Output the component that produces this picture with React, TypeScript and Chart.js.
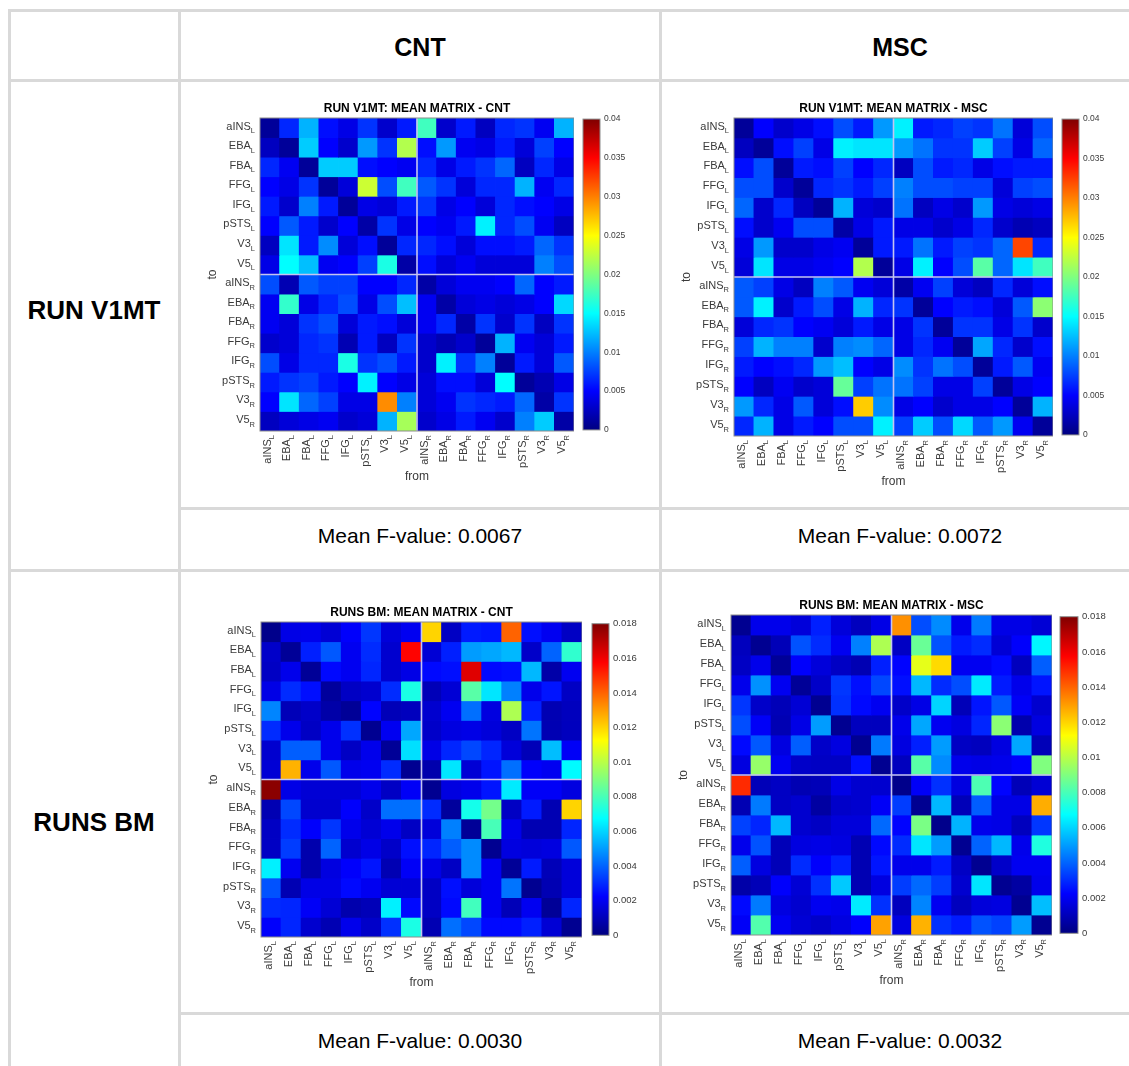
import React, { useEffect, useRef } from "react";
import { Chart, registerables } from "chart.js";

Chart.register(...registerables);

// Region labels: [name, hemisphere subscript]
const regionNames = ["aINS", "EBA", "FBA", "FFG", "IFG", "pSTS", "V3", "V5"];
const hemispheres = ["L", "R"];
const regionLabels = hemispheres.flatMap((h) => regionNames.map((n) => [n, h]));

// All matrix values are in thousandths (1 = 0.001)
const UNIT = 0.001;

const runV1mtCnt = [
  [1, 6.5, 12, 5.5, 4, 7, 3, 6, 17.5, 3, 6, 2.5, 6.5, 7, 4.5, 12],
  [2.5, 1, 13, 5, 3, 11, 7, 22, 5.5, 11, 4.5, 4, 6, 3.5, 7.5, 5],
  [6.5, 4.5, 1, 13, 13, 5.5, 5, 4.5, 6.5, 4, 6, 7, 9, 2.5, 6.5, 4],
  [5, 4, 7, 1, 3.5, 23, 8, 17.5, 8.5, 7, 3.5, 6.5, 6.5, 12, 4.5, 6.5],
  [6, 3, 10, 6, 1, 4, 3.5, 6, 7, 4, 5, 3.5, 6.5, 5.5, 5, 4],
  [5, 8.5, 6, 3, 5, 1.5, 7, 4, 5, 4.5, 6, 14.5, 6.5, 8, 4.5, 2.5],
  [2.5, 14, 6, 10.5, 3.5, 5.5, 1, 6.5, 6.5, 5.5, 3.5, 5.5, 5.5, 6, 9, 7],
  [4, 15, 12.5, 4.5, 5, 7.5, 16, 1.5, 5.5, 3.5, 4.5, 3.5, 3.5, 3.5, 10, 8],
  [8, 2, 8.5, 7.5, 7.5, 5, 5, 6.5, 1.5, 3.5, 4.5, 4.5, 5, 9, 5, 6],
  [4.5, 17, 4, 6.5, 8, 4, 8, 12.5, 4.5, 1.5, 3.5, 4, 3.5, 4, 5, 13.5],
  [4.5, 3.5, 7, 8, 3.5, 6, 5.5, 3.5, 4.5, 6.5, 1.5, 7, 3, 7, 2.5, 7],
  [3, 3.5, 6.5, 7, 2, 6, 2.5, 7, 3, 2, 3, 1, 12, 4.5, 3.5, 6],
  [8, 4, 6.5, 6.5, 16, 7, 8, 6, 3, 14.5, 7, 10, 1, 6, 3.5, 8.5],
  [6, 7, 7.5, 6, 5, 14.5, 5, 4, 3.5, 5.5, 5.5, 3.5, 15, 1, 2, 4],
  [5, 14, 9, 7.5, 4, 4, 29.5, 10, 3.5, 4.5, 7, 6.5, 6, 9, 1.5, 7],
  [2.5, 3.5, 4, 4.5, 3, 3.5, 12, 21.5, 3, 4, 6, 4.5, 3, 10, 13, 1.5],
];

const runV1mtMsc = [
  [1, 5, 3, 4, 5.5, 8, 6, 11, 14.5, 6, 6.5, 7.5, 7, 9.5, 3.5, 8],
  [2.5, 1, 5.5, 7.5, 4, 14.5, 14, 14, 11, 9.5, 7, 7, 13, 7.5, 4, 9],
  [5.5, 8, 1, 6, 5.5, 7.5, 5, 6.5, 2.5, 8, 6, 6.5, 4, 5.5, 6, 6],
  [8, 8, 3, 1, 6.5, 7, 6, 7.5, 10, 8, 8, 7.5, 7.5, 3.5, 7.5, 8],
  [9, 3, 6.5, 2.5, 1, 12, 3.5, 3, 9.5, 2.5, 4, 3, 11, 4, 3.5, 4],
  [5.5, 3, 4.5, 8, 8, 1.5, 4, 6, 4, 4, 3, 4, 6.5, 3, 2, 2.5],
  [4, 11, 3, 3, 4, 4.5, 1, 6, 6, 9.5, 6, 7.5, 7, 9, 32.3, 6.5],
  [3.5, 14, 4, 4, 4.5, 5, 22, 1, 4, 14.5, 5, 8, 18.5, 9, 14, 17.5],
  [8.5, 7.5, 4, 2.5, 10, 8.5, 4.5, 3.5, 1.5, 4.5, 7.5, 3.5, 2.5, 6.5, 3.5, 5.5],
  [8.5, 14.5, 3, 6, 8, 4, 12, 6.5, 7, 1, 5, 6, 5.5, 3.5, 8.5, 20.5],
  [3.5, 6.5, 7, 5, 4.5, 3.5, 6, 4, 4, 7, 1, 7, 7, 4, 7, 3],
  [7.5, 12, 10, 10, 3, 10, 10.5, 9, 4, 6.5, 4.5, 1, 11.5, 6.5, 3, 5.5],
  [6, 5, 5.5, 6.5, 11, 12.5, 5, 4, 10.5, 7, 9.5, 8, 1, 6, 8.5, 4.5],
  [5, 2.5, 4.5, 3, 3.5, 19, 7.5, 9.5, 9.5, 7.5, 4, 4, 7.5, 1, 4, 5],
  [11, 6.5, 4, 8.5, 3.5, 5.5, 27, 10.5, 4, 5, 3, 4, 4, 5, 1, 12],
  [6.5, 12, 4, 6, 5, 8, 8, 14.5, 7.5, 13, 8, 13.5, 8.5, 11, 4.5, 1],
];

const runsBmCnt = [
  [0.2, 1.8, 1.9, 1.5, 2.2, 3.2, 1.6, 2, 12, 1.2, 2.7, 2.6, 14, 2.5, 2, 1.2],
  [1.3, 0.4, 2.8, 3.8, 2, 3, 1.4, 15.7, 1.5, 2.8, 5, 5.2, 5.5, 1.3, 4, 7.6],
  [1.2, 1.9, 0.4, 2.4, 2, 2.9, 1.4, 1.8, 2.4, 2.5, 16.3, 2.4, 2.5, 5.5, 0.7, 2],
  [1.8, 3, 2.5, 0.5, 1.2, 1.4, 3, 7.2, 1, 1.5, 8.3, 6.3, 4.5, 1.9, 2.6, 1.2],
  [4.6, 1, 1.3, 0.7, 0.4, 2.3, 1, 1.1, 1.4, 2, 4.2, 1.7, 9.8, 2.8, 0.9, 1.1],
  [3, 1.9, 1.2, 1.9, 3.1, 0.3, 2, 5.2, 1.3, 1.7, 1.8, 1.6, 1.2, 4.3, 0.9, 1.1],
  [1.4, 3.9, 3.9, 1.9, 1.2, 1.9, 0.4, 6.2, 1.8, 2.9, 3.5, 2.9, 1.6, 1, 5.6, 2.1],
  [1.5, 12.6, 1.9, 3.8, 1.9, 2, 3, 0.3, 0.8, 6.3, 1.5, 2.6, 4.2, 2.2, 2, 6.7],
  [17.8, 1.8, 1.5, 1.5, 1.5, 1.9, 1.2, 2.1, 0.3, 1.7, 1.9, 2.6, 6.4, 2.1, 2.1, 1.7],
  [0.9, 3.5, 1.4, 1.4, 2.2, 1.3, 4.2, 4.2, 3, 0.5, 7.1, 8.8, 1.2, 2.7, 0.9, 12],
  [1.2, 3, 2.2, 3.2, 1.9, 1.5, 1.9, 1.2, 1.6, 4.5, 0.4, 8, 1.9, 0.9, 0.9, 2.9],
  [1.2, 3.3, 0.8, 4, 1.4, 1.8, 1.3, 2.5, 2.9, 3.9, 4.7, 0.3, 1.7, 1.6, 1.7, 3.8],
  [6.5, 2, 0.8, 1.7, 2.2, 2.6, 0.9, 2.1, 1.8, 1.2, 4.7, 2, 0.4, 2.7, 1, 1.6],
  [3.7, 0.9, 1.8, 1.8, 2.4, 2, 1.5, 1.5, 1.2, 2.5, 1.6, 2, 4.3, 0.3, 0.9, 1.6],
  [3, 2.9, 2.1, 1.5, 0.8, 1, 6.5, 2.4, 1.2, 2.4, 7.9, 2, 1, 2, 0.4, 2.9],
  [2.2, 2.9, 1.4, 0.9, 1.9, 1.3, 3.1, 7.2, 0.9, 4.2, 3.5, 2.4, 2.4, 2.8, 1.5, 0.3],
];

const runsBmMsc = [
  [0.3, 1.9, 1.9, 1.6, 2.8, 1.6, 1.1, 1.8, 13.2, 3.6, 4.7, 1.9, 4.4, 1.8, 1.8, 1.5],
  [1.1, 0.3, 1, 3.7, 3, 2, 4.5, 9.8, 1.2, 8.6, 3.7, 2.7, 3, 1.5, 2.2, 6.6],
  [1.2, 1.9, 0.4, 2.2, 1.6, 1.2, 0.9, 2.8, 2.3, 10.8, 11.9, 2, 2, 2.4, 1.1, 3.9],
  [1.9, 4.8, 2, 0.4, 1.3, 3.2, 2.5, 3.5, 2.5, 5.5, 3, 3.6, 6.4, 2.7, 1.9, 2.6],
  [3.2, 1.3, 1, 1.5, 0.3, 3.1, 2.4, 2, 1.3, 1.8, 6, 1, 2.6, 3.8, 2.1, 1.4],
  [3.6, 2.1, 0.9, 1.8, 5, 0.3, 1.1, 1.1, 1.9, 5.2, 2, 1.7, 2.9, 9.2, 0.8, 1.7],
  [2.4, 3.8, 1.7, 3.9, 1.3, 1.7, 0.3, 4.4, 1.7, 2.8, 5, 1.2, 1.1, 1.7, 5.2, 1],
  [1.7, 9.4, 2, 1.3, 1.2, 1.2, 2.5, 0.3, 1.1, 8.3, 4.7, 1.9, 1.8, 1.9, 2.2, 9],
  [15, 1, 1.2, 0.9, 1, 1.8, 1.4, 1.4, 0.2, 2.1, 3.1, 1.7, 8.1, 2.3, 1, 1.5],
  [0.9, 4.4, 1.2, 1.4, 0.6, 1.3, 1.4, 2.1, 3.3, 0.3, 5.5, 1, 3.9, 1.8, 1.8, 12.7],
  [3.4, 2.9, 5.5, 1.4, 1.2, 1.6, 1.6, 4.1, 2.3, 8.9, 0.2, 5.4, 1.9, 1.8, 1.1, 3.2],
  [1.9, 3.7, 1, 1.7, 1.8, 1.7, 0.9, 2.4, 3, 6.3, 5, 0.3, 4, 5.5, 1.9, 7.3],
  [3.9, 1.7, 1, 3, 2.2, 2.8, 0.9, 2.6, 1.9, 1.9, 2.7, 1.2, 0.3, 1.3, 2, 2],
  [0.7, 1, 2.2, 1.5, 3.1, 5.8, 0.9, 1.7, 3.3, 4.1, 3.3, 1.4, 6.3, 0.3, 0.6, 1.9],
  [2.4, 4.4, 1.7, 1.4, 2, 1.9, 6.4, 3.1, 1.1, 4.6, 2, 1.1, 1.6, 1.7, 0.3, 5.6],
  [2.1, 8.2, 2, 1.5, 1.3, 1.7, 2.2, 12.9, 1.7, 12.6, 3.1, 2.7, 3.7, 3.4, 5, 0.3],
];

const columnHeads = [
  { text: "CNT", x: 420 },
  { text: "MSC", x: 900 },
];
const rowHeads = [
  { text: "RUN V1MT", y: 310 },
  { text: "RUNS BM", y: 822 },
];
const meanFValues = [
  { text: "Mean F-value: 0.0067", x: 420, y: 536 },
  { text: "Mean F-value: 0.0072", x: 900, y: 536 },
  { text: "Mean F-value: 0.0030", x: 420, y: 1041 },
  { text: "Mean F-value: 0.0032", x: 900, y: 1041 },
];

const panels = [
  { title: "RUN V1MT: MEAN MATRIX - CNT", rows: runV1mtCnt, vmax: 0.04, step: 0.005, decimals: 3, l: 260, t: 117.5, r: 574, b: 431, cbL: 583, cbR: 600, cbFont: 8.5 },
  { title: "RUN V1MT: MEAN MATRIX - MSC", rows: runV1mtMsc, vmax: 0.04, step: 0.005, decimals: 3, l: 734, t: 118, r: 1053, b: 436, cbL: 1062, cbR: 1079, cbFont: 8.5 },
  { title: "RUNS BM: MEAN MATRIX - CNT", rows: runsBmCnt, vmax: 0.018, step: 0.002, decimals: 3, l: 261, t: 622, r: 582, b: 937, cbL: 592, cbR: 609, cbFont: 9.5 },
  { title: "RUNS BM: MEAN MATRIX - MSC", rows: runsBmMsc, vmax: 0.018, step: 0.002, decimals: 3, l: 731, t: 615, r: 1052, b: 935, cbL: 1060, cbR: 1078, cbFont: 9.5 },
];

const FONT = '"Liberation Sans", Arial, Helvetica, sans-serif';
const LINE = "#d9d9d9";
const AXIS_TEXT = "#3a3a3a";
const BORDER = "#8c8c8c";
const BLUR = "blur(0.6px)";

// MATLAB jet
const JET_STOPS: [number, number[]][] = [
  [0, [0, 0, 128]],
  [0.125, [0, 0, 255]],
  [0.375, [0, 255, 255]],
  [0.625, [255, 255, 0]],
  [0.875, [255, 0, 0]],
  [1, [128, 0, 0]],
];
function jet(f: number) {
  const t = Math.max(0, Math.min(1, f));
  for (let i = 1; i < JET_STOPS.length; i++) {
    const [t1, c1] = JET_STOPS[i];
    const [t0, c0] = JET_STOPS[i - 1];
    if (t <= t1) {
      const k = (t - t0) / (t1 - t0);
      const c = c0.map((v, j) => Math.round(v + (c1[j] - v) * k));
      return `rgb(${c[0]},${c[1]},${c[2]})`;
    }
  }
  return "rgb(128,0,0)";
}

function drawLabel(ctx: CanvasRenderingContext2D, name: string, sub: string) {
  // right-aligned at (0,0), name slightly raised, subscript lowered
  ctx.textBaseline = "alphabetic";
  ctx.textAlign = "right";
  ctx.font = `7.5px ${FONT}`;
  const subW = ctx.measureText(sub).width;
  ctx.fillText(sub, 0, 5.5);
  ctx.font = `11px ${FONT}`;
  ctx.fillText(name, -subW, 1.8);
}

const heatmapDecor = {
  id: "heatmapDecor",
  afterDatasetsDraw(chart: any) {
    const { ctx, chartArea: a, scales } = chart;
    const x = scales.x;
    const y = scales.y;
    ctx.save();
    // hemisphere separators
    const midX = (x.getPixelForValue(7) + x.getPixelForValue(8)) / 2;
    const midY = y.getPixelForValue(8);
    ctx.strokeStyle = "#c4c4f0";
    ctx.lineWidth = 1.6;
    ctx.beginPath();
    ctx.moveTo(midX, a.top);
    ctx.lineTo(midX, a.bottom);
    ctx.moveTo(a.left, midY);
    ctx.lineTo(a.right, midY);
    ctx.stroke();
    // frame
    ctx.strokeStyle = BORDER;
    ctx.lineWidth = 1;
    ctx.strokeRect(a.left, a.top, a.right - a.left, a.bottom - a.top);
    // tick labels with subscripts
    ctx.fillStyle = AXIS_TEXT;
    regionLabels.forEach(([n, h], i) => {
      ctx.save();
      ctx.translate(a.left - 5, y.getPixelForValue(i + 0.5));
      drawLabel(ctx, n, h);
      ctx.restore();
      ctx.save();
      ctx.translate(x.getPixelForValue(i) - 1, a.bottom + 4);
      ctx.rotate(-Math.PI / 2);
      drawLabel(ctx, n, h);
      ctx.restore();
    });
    ctx.restore();
  },
};

const frameOnly = {
  id: "frameOnly",
  afterDatasetsDraw(chart: any) {
    const { ctx, chartArea: a } = chart;
    ctx.save();
    ctx.strokeStyle = BORDER;
    ctx.lineWidth = 1;
    ctx.strokeRect(a.left, a.top, a.right - a.left, a.bottom - a.top);
    ctx.restore();
  },
};

const LEFT = 60;
const TOP = 17;
const BOTTOM = 56;

function Heatmap({ p }: { p: (typeof panels)[number] }) {
  const ref = useRef<HTMLCanvasElement>(null);
  useEffect(() => {
    const labels = regionLabels.map(([n, h]) => `${n}_${h}`);
    const chart = new Chart(ref.current!, {
      type: "bar",
      plugins: [heatmapDecor],
      data: {
        labels,
        datasets: p.rows.map((row, i) => ({
          label: labels[i],
          data: row.map((v, j) => ({ x: labels[j], y: [i, i + 1], v })),
          grouped: false,
          barPercentage: 1,
          categoryPercentage: 1,
          borderWidth: 0,
          inflateAmount: 0.4,
          backgroundColor: row.map((v) => jet((v * UNIT) / p.vmax)),
        })),
      } as any,
      options: {
        animation: false,
        responsive: false,
        events: [],
        layout: { padding: 0 },
        plugins: {
          legend: { display: false },
          tooltip: { enabled: false },
          title: {
            display: true,
            text: p.title,
            fullSize: false,
            color: "#000",
            font: { family: FONT, size: 12, weight: "bold", lineHeight: 1.2 },
            padding: { top: 0, bottom: 2.6 },
          },
        },
        scales: {
          x: {
            type: "category",
            grid: { display: false, drawTicks: false },
            border: { display: false },
            ticks: { display: false },
            title: { display: true, text: "from", color: AXIS_TEXT, font: { family: FONT, size: 12, lineHeight: 1.2 }, padding: { top: 0, bottom: 2.8 } },
            afterFit: (s: any) => { s.height = BOTTOM; },
          },
          y: {
            type: "linear",
            reverse: true,
            min: 0,
            max: 16,
            grid: { display: false, drawTicks: false },
            border: { display: false },
            ticks: { display: false, stepSize: 1 },
            title: { display: true, text: "to", color: AXIS_TEXT, font: { family: FONT, size: 12, lineHeight: 1.2 }, padding: { top: 5.8, bottom: 0 } },
            afterFit: (s: any) => { s.width = LEFT; },
          },
        },
      } as any,
    });
    return () => chart.destroy();
  }, [p]);
  const w = p.r - p.l + LEFT;
  const h = p.b - p.t + TOP + BOTTOM;
  return (
    <canvas
      ref={ref}
      width={w}
      height={h}
      style={{ position: "absolute", left: p.l - LEFT, top: p.t - TOP, width: w, height: h, filter: BLUR }}
    />
  );
}

function Colorbar({ p }: { p: (typeof panels)[number] }) {
  const ref = useRef<HTMLCanvasElement>(null);
  useEffect(() => {
    const chart = new Chart(ref.current!, {
      type: "bar",
      plugins: [frameOnly],
      data: {
        labels: ["scale"],
        datasets: [
          {
            data: [[0, p.vmax]],
            barPercentage: 1,
            categoryPercentage: 1,
            borderWidth: 0,
            backgroundColor: (c: any) => {
              const a = c.chart.chartArea;
              if (!a) return "#00f";
              const g = c.chart.ctx.createLinearGradient(0, a.bottom, 0, a.top);
              JET_STOPS.forEach(([t]) => g.addColorStop(t, jet(t)));
              return g;
            },
          },
        ],
      } as any,
      options: {
        animation: false,
        responsive: false,
        events: [],
        layout: { padding: { top: 8, bottom: 8, left: 1 } },
        plugins: { legend: { display: false }, tooltip: { enabled: false } },
        scales: {
          x: { display: false },
          y: {
            position: "right",
            min: 0,
            max: p.vmax,
            grid: { display: false, drawTicks: false },
            border: { display: false },
            ticks: {
              stepSize: p.step,
              padding: 4,
              color: AXIS_TEXT,
              font: { family: FONT, size: p.cbFont },
              callback: (v: number) => (v === 0 ? "0" : String(Number(v.toFixed(p.decimals)))),
            },
            afterFit: (s: any) => { s.width = 34; },
          },
        },
      } as any,
    });
    return () => chart.destroy();
  }, [p]);
  const w = p.cbR - p.cbL + 35;
  const h = p.b - p.t + 16;
  return (
    <canvas
      ref={ref}
      width={w}
      height={h}
      style={{ position: "absolute", left: p.cbL - 1, top: p.t - 8, width: w, height: h, filter: BLUR }}
    />
  );
}

function Rule({ x, y, w, h }: { x: number; y: number; w: number; h: number }) {
  return <div style={{ position: "absolute", left: x, top: y, width: w, height: h, background: LINE }} />;
}

function Centered({ text, x, y, size, bold }: { text: string; x: number; y: number; size: number; bold?: boolean }) {
  return (
    <div
      style={{
        position: "absolute",
        left: x - 200,
        top: y - 20,
        width: 400,
        height: 40,
        lineHeight: "40px",
        textAlign: "center",
        fontFamily: FONT,
        fontSize: size,
        fontWeight: bold ? 700 : 400,
        color: "#000",
        whiteSpace: "nowrap",
      }}
    >
      {text}
    </div>
  );
}

export default function App() {
  return (
    <div style={{ position: "absolute", left: 0, top: 0, width: 1129, height: 1066, overflow: "hidden", background: "#fff" }}>
      <Rule x={8} y={9} w={1121} h={3} />
      <Rule x={8} y={79} w={1121} h={3} />
      <Rule x={8} y={569} w={1121} h={3} />
      <Rule x={178} y={507} w={951} h={3} />
      <Rule x={178} y={1012} w={951} h={3} />
      <Rule x={8} y={9} w={3} h={1057} />
      <Rule x={178} y={9} w={3} h={1057} />
      <Rule x={659} y={9} w={3} h={1057} />
      {columnHeads.map((c) => (
        <Centered key={c.text} text={c.text} x={c.x} y={47} size={25} bold />
      ))}
      {rowHeads.map((r) => (
        <Centered key={r.text} text={r.text} x={94} y={r.y} size={26} bold />
      ))}
      {meanFValues.map((m) => (
        <Centered key={m.text} text={m.text} x={m.x} y={m.y} size={21} />
      ))}
      {panels.map((p) => (
        <React.Fragment key={p.title}>
          <Heatmap p={p} />
          <Colorbar p={p} />
        </React.Fragment>
      ))}
    </div>
  );
}
